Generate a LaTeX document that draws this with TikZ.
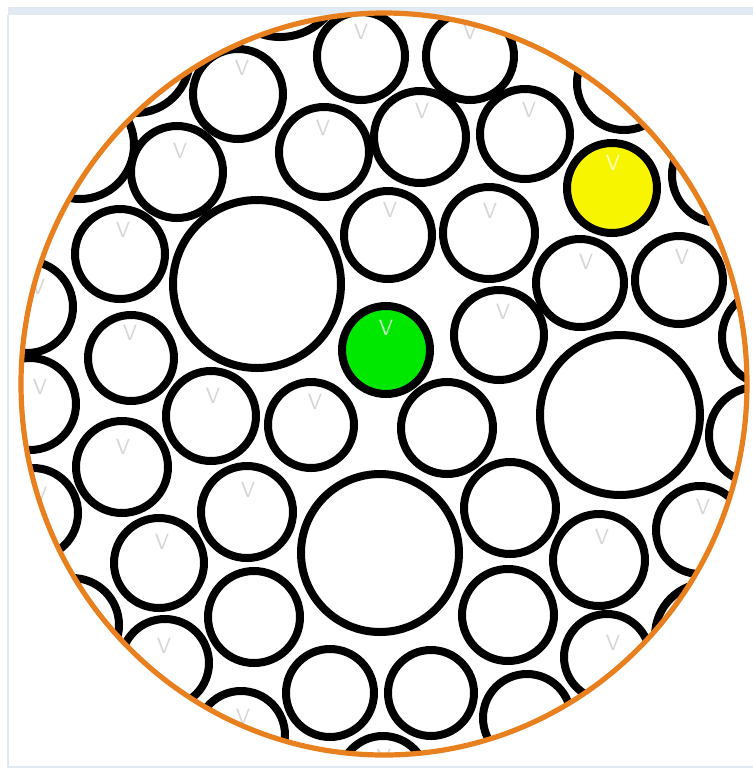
\documentclass[tikz,border=0pt]{standalone}
\definecolor{rimorange}{RGB}{232,128,32}
\definecolor{ballgreen}{RGB}{0,232,0}
\definecolor{ballyellow}{RGB}{247,245,0}
\definecolor{frameblue}{RGB}{225,233,242}
\begin{document}
\begin{tikzpicture}[
  x=0.5pt, y=-0.5pt,
  ball/.style={circle, draw=black, line width=4pt, fill=white, inner sep=0pt, minimum size=#1pt},
  wmark/.style={text=black!16, font=\sffamily\fontsize{11}{11}\selectfont, inner sep=0pt},
  wmarkw/.style={wmark, text=white, text opacity=0.75}
]
  \useasboundingbox (0,0) rectangle (753,768);
  % thin frame of the screenshot
  \fill[frameblue] (8,7) rectangle (753,15);
  \draw[frameblue, line width=1pt] (8,15) -- (8,767) -- (753,767);

  \begin{scope}
    \clip (384,384) ellipse [x radius=363, y radius=371];

    % balls cut by the rim
    \node[ball=54] (e6) at (80,145) {};
    \node[ball=55] (e7) at (135,58) {};
    \node[ball=62] (e8) at (280,-25) {};
    \node[ball=47] (e9) at (624,83) {};
    \node[ball=48] (e10) at (720,175) {};
    \node[ball=48] (e11) at (770,337) {};
    \node[ball=48] (e12) at (757,435) {};
    \node[ball=53] (e13) at (708,636) {};
    \node[ball=44] (e1) at (383,780) {};
    \node[ball=46] (e2) at (27,307) {};
    \node[ball=46] (e3) at (30,404) {};
    \node[ball=45] (e4) at (33,513) {};
    \node[ball=47] (e5) at (72,625) {};

    % top rows
    \node[ball=44] (c1) at (361,56) {};
    \node[ball=44] (c2) at (470,56) {};
    \node[ball=45] (c3) at (238,94) {};
    \node[ball=45] (c4) at (324,152) {};
    \node[ball=46] (c5) at (420,137) {};
    \node[ball=45] (c6) at (525,134) {};
    \node[ball=45, fill=ballyellow] (yel) at (612,188) {};
    \node[ball=46] (c7) at (177,172) {};
    \node[ball=45] (c8) at (120,254) {};
    \node[ball=84] (big1) at (257,284) {};
    \node[ball=44] (c9) at (388,235) {};
    \node[ball=46] (c10) at (489,233) {};
    \node[ball=44] (c11) at (580,283) {};
    \node[ball=44] (c12) at (679,280) {};

    % middle rows
    \node[ball=44, fill=ballgreen] (grn) at (386,350) {};
    \node[ball=45] (c13) at (499,335) {};
    \node[ball=43] (c14) at (131,358) {};
    \node[ball=45] (c15) at (211,416) {};
    \node[ball=43] (c16) at (311,425) {};
    \node[ball=46] (c17) at (447,428) {};
    \node[ball=80] (big2) at (620,415) {};
    \node[ball=46] (c18) at (122,467) {};
    \node[ball=46] (c19) at (247,512) {};
    \node[ball=79] (big3) at (380,553) {};
    \node[ball=46] (c20) at (510,508) {};
    \node[ball=46] (c21) at (599,560) {};
    \node[ball=44] (c22) at (700,530) {};

    % bottom rows
    \node[ball=45] (c23) at (159,563) {};
    \node[ball=46] (c24) at (254,617) {};
    \node[ball=46] (c25) at (508,615) {};
    \node[ball=44] (c26) at (165,663) {};
    \node[ball=44] (c27) at (330,693) {};
    \node[ball=43] (c28) at (431,693) {};
    \node[ball=44] (c29) at (527,718) {};
    \node[ball=43] (c30) at (607,657) {};
    \node[ball=44] (c31) at (241,735) {};

    % watermark letters
    \foreach \vx/\vy [count=\i] in {361/32, 470/32, 242/68, 323/128, 422/111, 529/110,
        180/151, 123/230, 390/210, 490/211, 586/262, 682/257, 503/312, 130/333,
        213/396, 315/402, 123/447, 248/490, 602/537, 703/507, 162/542, 164/646,
        613/643, 243/717, 384/757, 38/287, 40/387, 40/495}
      \node[wmark] (v\i) at (\vx,\vy) {V};
    \node[wmarkw] (vyel) at (613,163) {V};
    \node[wmarkw] (vgrn) at (386,328) {V};
    \node[text=black, font=\sffamily\tiny\bfseries, inner sep=0pt] (vdot) at (535,549) {v};
  \end{scope}

  % rim
  \draw[rimorange, line width=2.6pt] (384,384) ellipse [x radius=363, y radius=371];
\end{tikzpicture}
\end{document}
